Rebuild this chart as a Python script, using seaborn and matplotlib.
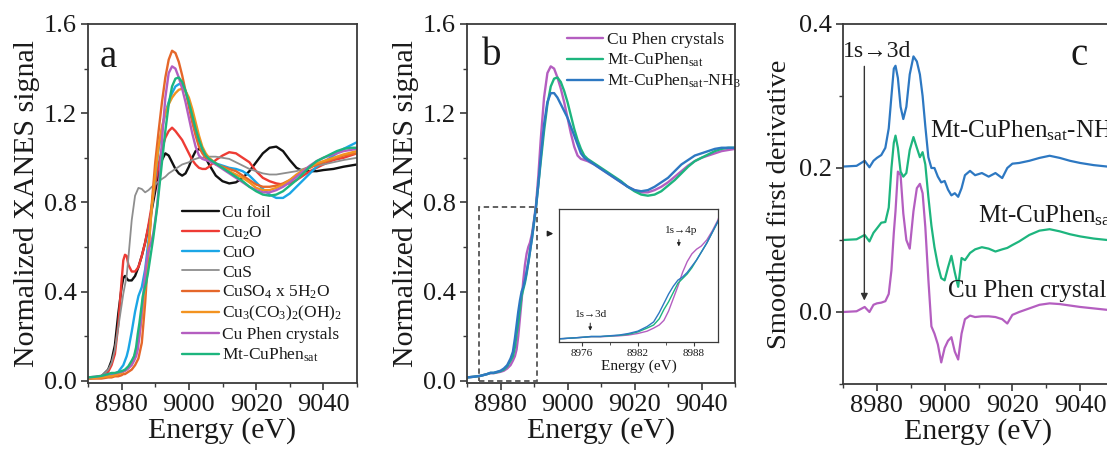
import matplotlib
matplotlib.use("Agg")
import matplotlib.pyplot as plt
from matplotlib.ticker import MultipleLocator
from matplotlib.patches import Rectangle
import seaborn as sns

# ---------------- data ----------------
# (a) reference compounds, Cu K-edge XANES
energy_ref = [8970, 8974, 8976, 8977, 8978, 8979, 8980, 8980.5, 8981, 8981.5,
              8982, 8983, 8984, 8985, 8986, 8987, 8988, 8989, 8990, 8991,
              8992, 8993, 8994, 8995, 8996, 8997, 8998, 8999, 9000, 9001,
              9002, 9003, 9004, 9005, 9006, 9008, 9010, 9012, 9014, 9016,
              9018, 9020, 9022, 9024, 9026, 9028, 9030, 9032, 9034, 9036,
              9038, 9040, 9043, 9046, 9050]
cu_foil = [0.01, 0.02, 0.05, 0.09, 0.16, 0.3, 0.42, 0.46, 0.47, 0.46,
           0.45, 0.45, 0.47, 0.51, 0.56, 0.62, 0.69, 0.77, 0.85, 0.93,
           0.99, 1.02, 1.01, 0.98, 0.95, 0.93, 0.92, 0.93, 0.96, 1.0,
           1.03, 1.04, 1.03, 1.0, 0.97, 0.92, 0.895, 0.885, 0.89, 0.91,
           0.94, 0.98, 1.02, 1.045, 1.05, 1.03, 0.99, 0.955, 0.94, 0.94,
           0.94, 0.945, 0.95, 0.96, 0.97]
cu2o = [0.01, 0.02, 0.04, 0.07, 0.12, 0.25, 0.45, 0.54, 0.565, 0.56,
        0.52, 0.49, 0.49, 0.51, 0.56, 0.62, 0.7, 0.79, 0.88, 0.97,
        1.04, 1.09, 1.12, 1.135, 1.12, 1.1, 1.08, 1.05, 1.02, 0.99,
        0.97, 0.955, 0.95, 0.95, 0.96, 0.99, 1.01, 1.025, 1.02, 1.0,
        0.98, 0.94, 0.91, 0.895, 0.885, 0.88, 0.885, 0.9, 0.92, 0.94,
        0.955, 0.97, 0.99, 1.0, 1.02]
cuo = [0.01, 0.015, 0.02, 0.025, 0.03, 0.04, 0.06, 0.07, 0.09, 0.11,
       0.14, 0.22, 0.31, 0.38, 0.42, 0.5, 0.63, 0.78, 0.92, 1.04,
       1.13, 1.2, 1.25, 1.29, 1.32, 1.33, 1.33, 1.3, 1.25, 1.19,
       1.13, 1.08, 1.04, 1.01, 0.99, 0.975, 0.965, 0.955, 0.95, 0.94,
       0.92, 0.89, 0.86, 0.835, 0.82, 0.82, 0.84, 0.87, 0.9, 0.93,
       0.96, 0.98, 1.01, 1.04, 1.07]
cus = [0.01, 0.02, 0.05, 0.08, 0.14, 0.24, 0.34, 0.39, 0.43, 0.47,
       0.55, 0.72, 0.83, 0.865, 0.86, 0.845, 0.855, 0.87, 0.88, 0.895,
       0.905, 0.915, 0.93, 0.94, 0.95, 0.96, 0.97, 0.975, 0.98, 0.99,
       0.995, 1.0, 1.0, 1.005, 1.005, 1.005, 1.0, 0.995, 0.98, 0.965,
       0.95, 0.94, 0.93, 0.925, 0.925, 0.93, 0.935, 0.94, 0.95, 0.96,
       0.965, 0.97, 0.98, 0.99, 1.0]
cuso4 = [0.01, 0.01, 0.015, 0.015, 0.02, 0.02, 0.025, 0.03, 0.03, 0.035,
         0.04, 0.05, 0.07, 0.1, 0.17, 0.35, 0.58, 0.8, 0.98, 1.12,
         1.25, 1.36, 1.44, 1.48, 1.47, 1.43, 1.37, 1.3, 1.23, 1.16,
         1.1, 1.05, 1.02, 1.0, 0.99, 0.97, 0.96, 0.95, 0.94, 0.92,
         0.9, 0.88, 0.87, 0.87, 0.875, 0.885, 0.9, 0.92, 0.94, 0.955,
         0.97, 0.98, 0.995, 1.01, 1.02]
azurite = [0.01, 0.015, 0.02, 0.02, 0.025, 0.03, 0.035, 0.04, 0.045, 0.05,
           0.06, 0.08, 0.12, 0.18, 0.28, 0.42, 0.6, 0.78, 0.93, 1.05,
           1.14, 1.2, 1.24, 1.27, 1.29, 1.305, 1.31, 1.3, 1.27, 1.22,
           1.16, 1.1, 1.05, 1.02, 1.0, 0.975, 0.955, 0.94, 0.925, 0.91,
           0.89, 0.865, 0.855, 0.855, 0.865, 0.88, 0.9, 0.925, 0.945, 0.96,
           0.975, 0.985, 1.0, 1.015, 1.03]

# (b) Cu-phenanthroline samples
energy_smp = [8970, 8972, 8974, 8976, 8977, 8978, 8980, 8981, 8982, 8983,
              8983.7, 8984.3, 8984.8, 8985.3, 8985.8, 8986.3, 8986.8, 8987.3, 8987.8, 8988.3,
              8988.8, 8989.4, 8990, 8990.6, 8991.3, 8992, 8993, 8994, 8995, 8996,
              8997, 8998, 8999, 9000, 9001, 9002, 9003, 9004, 9005, 9006,
              9008, 9010, 9012, 9014, 9016, 9018, 9020, 9022, 9024, 9026,
              9028, 9030, 9032, 9034, 9036, 9038, 9040, 9042, 9044, 9046,
              9048, 9050]
cu_phen = [0.015, 0.018, 0.022, 0.03, 0.034, 0.034, 0.04, 0.045, 0.055, 0.07,
           0.09, 0.11, 0.14, 0.2, 0.28, 0.36, 0.45, 0.52, 0.57, 0.6,
           0.62, 0.66, 0.72, 0.79, 0.92, 1.08, 1.27, 1.38, 1.41, 1.4,
           1.36, 1.31, 1.25, 1.18, 1.11, 1.05, 1.01, 0.995, 0.99, 0.985,
           0.97, 0.95, 0.93, 0.91, 0.89, 0.87, 0.855, 0.845, 0.845, 0.855,
           0.87, 0.89, 0.915, 0.94, 0.965, 0.985, 1.0, 1.01, 1.02, 1.03,
           1.035, 1.04]
mt_sat = [0.015, 0.018, 0.022, 0.03, 0.035, 0.035, 0.043, 0.05, 0.065, 0.09,
          0.11, 0.15, 0.21, 0.26, 0.32, 0.38, 0.41, 0.44, 0.48, 0.53,
          0.58, 0.64, 0.71, 0.78, 0.88, 0.98, 1.12, 1.24, 1.32, 1.355,
          1.36, 1.34, 1.3, 1.25, 1.19, 1.13, 1.08, 1.04, 1.01, 0.995,
          0.975, 0.955, 0.935, 0.915, 0.895, 0.87, 0.85, 0.835, 0.83, 0.835,
          0.85, 0.875, 0.9, 0.93, 0.96, 0.985, 1.0, 1.015, 1.03, 1.04,
          1.045, 1.045]
mt_sat_nh3 = [0.015, 0.018, 0.022, 0.03, 0.036, 0.036, 0.045, 0.055, 0.07, 0.1,
              0.13, 0.19, 0.25, 0.31, 0.36, 0.4, 0.42, 0.45, 0.49, 0.53,
              0.58, 0.64, 0.71, 0.78, 0.88, 1.0, 1.15, 1.25, 1.29, 1.29,
              1.27, 1.24, 1.21, 1.18, 1.14, 1.1, 1.06, 1.02, 1.0, 0.99,
              0.97, 0.95, 0.93, 0.91, 0.89, 0.87, 0.855, 0.85, 0.855, 0.87,
              0.89, 0.91, 0.94, 0.97, 0.99, 1.01, 1.02, 1.03, 1.04, 1.045,
              1.045, 1.045]

# (c) smoothed first derivatives (each stacked on its own baseline)
energy_der = [8970, 8974, 8976.4, 8977.8, 8979, 8980, 8981.3, 8982.5, 8983.5, 8984.3,
              8985, 8985.5, 8986.2, 8987, 8987.8, 8988.7, 8989.7, 8990.8, 8991.8, 8992.7,
              8993.5, 8994.3, 8995.2, 8996.1, 8997, 8998, 8999, 9000, 9001, 9002,
              9003, 9004, 9005, 9006, 9007.5, 9009, 9011, 9013, 9015, 9017,
              9018.5, 9020, 9022, 9025, 9028, 9031, 9034, 9037, 9040, 9044,
              9048, 9050]
der_cu_phen = [0.0, 0.001, 0.007, 0.0, 0.01, 0.012, 0.013, 0.015, 0.025, 0.058,
               0.11, 0.14, 0.195, 0.19, 0.137, 0.1, 0.088, 0.14, 0.172, 0.178,
               0.165, 0.118, 0.045, -0.02, -0.03, -0.045, -0.07, -0.05, -0.04, -0.035,
               -0.055, -0.066, -0.03, -0.01, -0.005, -0.007, -0.006, -0.006, -0.007, -0.01,
               -0.016, -0.004, 0.0, 0.005, 0.01, 0.012, 0.011, 0.009, 0.007, 0.005,
               0.003, 0.002]
der_mt_sat = [0.0, 0.001, 0.007, -0.002, 0.01, 0.016, 0.024, 0.025, 0.045, 0.1,
              0.135, 0.145, 0.128, 0.095, 0.088, 0.093, 0.125, 0.143, 0.128, 0.115,
              0.122, 0.105, 0.06, 0.02, -0.01, -0.035, -0.053, -0.056, -0.038, -0.022,
              -0.045, -0.065, -0.025, -0.028, -0.018, -0.013, -0.01, -0.012, -0.016, -0.013,
              -0.011, -0.007, -0.002, 0.007, 0.013, 0.015, 0.012, 0.008, 0.005, 0.002,
              0.0, -0.001]
der_mt_nh3 = [0.002, 0.003, 0.01, 0.001, 0.01, 0.014, 0.018, 0.028, 0.055, 0.1,
              0.138, 0.142, 0.125, 0.085, 0.068, 0.085, 0.13, 0.155, 0.148, 0.13,
              0.1, 0.058, 0.015, 0.0, 0.0, -0.012, -0.02, -0.018, -0.03, -0.038,
              -0.035, -0.04, -0.028, -0.01, -0.004, -0.01, -0.007, -0.012, -0.007, -0.014,
              0.0, 0.006, 0.007, 0.01, 0.014, 0.017, 0.014, 0.01, 0.007, 0.004,
              0.002, 0.001]
der_offsets = [0.0, 0.1, 0.2]

ref_labels = ["Cu foil", "Cu$_2$O", "CuO", "CuS", "CuSO$_4$ x 5H$_2$O",
              "Cu$_3$(CO$_3$)$_2$(OH)$_2$", "Cu Phen crystals",
              "Mt-CuPhen$_{\\mathrm{sat}}$"]
smp_labels = ["Cu Phen crystals", "Mt-CuPhen$_{\\mathrm{sat}}$",
              "Mt-CuPhen$_{\\mathrm{sat}}$-NH$_3$"]

# ---------------- style ----------------
C_FOIL, C_CU2O, C_CUO, C_CUS = "#111111", "#EE3B34", "#1BA6E6", "#8E8E8E"
C_SO4, C_AZU = "#E5672A", "#F39320"
C_PHEN, C_SAT, C_NH3 = "#B45EC0", "#1DB57E", "#2D78C2"

sns.set_style("ticks")
plt.rcParams.update({
    "font.family": ["Liberation Serif", "DejaVu Serif"],
    "mathtext.fontset": "custom",
    "mathtext.rm": "Liberation Serif",
    "mathtext.it": "Liberation Serif:italic",
    "mathtext.bf": "Liberation Serif:bold",
    "axes.edgecolor": "#3a3a3a",
    "axes.linewidth": 1.3,
    "text.color": "#1a1a1a",
    "axes.labelcolor": "#1a1a1a",
    "xtick.color": "#3a3a3a",
    "ytick.color": "#3a3a3a",
    "xtick.labelcolor": "#1a1a1a",
    "ytick.labelcolor": "#1a1a1a",
})

LW = 1.7
TICK_FS = 19
LABEL_FS = 21.5
fig = plt.figure(figsize=(11.07, 4.5), dpi=100)
W, H = 1107.0, 450.0


def axes_px(left, right, top, bottom):
    return fig.add_axes([left / W, 1 - bottom / H, (right - left) / W, (bottom - top) / H])


def line(ax, x, y, color, lw=LW, label=None):
    sns.lineplot(x=x, y=y, ax=ax, color=color, lw=lw, label=label,
                 legend=False, estimator=None, sort=False)


def style_axes(ax, ymajor, yminor):
    ax.set_xlim(8970, 9050)
    ax.xaxis.set_major_locator(MultipleLocator(20))
    ax.xaxis.set_minor_locator(MultipleLocator(10))
    ax.yaxis.set_major_locator(MultipleLocator(ymajor))
    ax.yaxis.set_minor_locator(MultipleLocator(yminor))
    ax.tick_params(which="major", direction="out", length=5, width=1.2,
                   labelsize=TICK_FS, pad=3)
    ax.tick_params(which="minor", direction="out", length=3, width=1.0)
    for s in ax.spines.values():
        s.set_visible(True)
    ax.set_xlabel("Energy (eV)", fontsize=LABEL_FS, labelpad=1)


# ---------------- panel a ----------------
ax_a = axes_px(88, 357, 24, 383)
ref_series = [cu_foil, cu2o, cuo, cus, cuso4, azurite]
ref_colors = [C_FOIL, C_CU2O, C_CUO, C_CUS, C_SO4, C_AZU]
for y, c, lab in zip(ref_series, ref_colors, ref_labels[:6]):
    line(ax_a, energy_ref, y, c, lw=LW if c != C_CUS else 1.3, label=lab)
line(ax_a, energy_smp, cu_phen, C_PHEN, label=ref_labels[6])
line(ax_a, energy_smp, mt_sat, C_SAT, label=ref_labels[7])
style_axes(ax_a, 0.4, 0.2)
ax_a.set_ylim(-0.01, 1.6)
ax_a.set_ylabel("Normalized XANES signal", fontsize=LABEL_FS, labelpad=3)
ax_a.legend(loc="upper left", bbox_to_anchor=(0.35, 0.495), frameon=False,
            fontsize=12.5, handlelength=2.1, handletextpad=0.2,
            labelspacing=0.18, borderpad=0, borderaxespad=0)
ax_a.text(0.045, 0.88, "a", transform=ax_a.transAxes, fontsize=28)

# ---------------- panel b ----------------
ax_b = axes_px(467, 735, 24, 383)
smp_series = [cu_phen, mt_sat, mt_sat_nh3]
smp_colors = [C_PHEN, C_SAT, C_NH3]
for y, c, lab in zip(smp_series, smp_colors, smp_labels):
    line(ax_b, energy_smp, y, c, label=lab)
style_axes(ax_b, 0.4, 0.2)
ax_b.set_ylim(-0.01, 1.6)
ax_b.set_ylabel("Normalized XANES signal", fontsize=LABEL_FS, labelpad=3)
ax_b.legend(loc="upper left", bbox_to_anchor=(0.373, 0.977), frameon=False,
            fontsize=12.5, handlelength=2.1, handletextpad=0.2,
            labelspacing=0.15, borderpad=0, borderaxespad=0)
ax_b.text(0.056, 0.886, "b", transform=ax_b.transAxes, fontsize=28)

# zoom window of the pre-edge region
zoom_x = (8973.5, 8990.8)
zoom_y = (0.0, 0.78)
ax_b.add_patch(Rectangle((zoom_x[0], zoom_y[0]), zoom_x[1] - zoom_x[0],
                         zoom_y[1] - zoom_y[0], fill=False, ec="#555555",
                         lw=1.3, ls=(0, (3, 2)), zorder=5))
ax_b.annotate("", xy=(8996.6, 0.66), xytext=(8993.4, 0.66),
              arrowprops=dict(arrowstyle="-|>", color="#222222", lw=1.0,
                              mutation_scale=8))

ax_in = axes_px(559, 718, 209, 342)
for y, c in zip(smp_series, smp_colors):
    line(ax_in, energy_smp, y, c, lw=1.0)
ax_in.set_xlim(8973.55, 8990.6)
ax_in.set_ylim(0.0, 0.86)
ax_in.xaxis.set_minor_locator(MultipleLocator(3))
ax_in.set_xticks([8976, 8982, 8988])
ax_in.set_yticks([])
ax_in.tick_params(which="major", direction="out", length=3, width=0.8,
                  labelsize=8, pad=2)
ax_in.tick_params(which="minor", direction="out", length=2, width=0.6)
for s in ax_in.spines.values():
    s.set_visible(True)
    s.set_linewidth(0.9)
ax_in.set_xlabel("Energy (eV)", fontsize=11, labelpad=1)
ax_in.text(8977.0, 0.15, "1s\u21923d", fontsize=8, ha="center", va="bottom")
ax_in.annotate("", xy=(8976.9, 0.055), xytext=(8976.9, 0.14),
               arrowprops=dict(arrowstyle="-|>", color="#222222", lw=0.7,
                               mutation_scale=5))
ax_in.text(8986.6, 0.69, "1s\u21924p", fontsize=8, ha="center", va="bottom")
ax_in.annotate("", xy=(8986.4, 0.6), xytext=(8986.4, 0.68),
               arrowprops=dict(arrowstyle="-|>", color="#222222", lw=0.7,
                               mutation_scale=5))

# ---------------- panel c ----------------
ax_c = axes_px(843, 1114, 24, 384)
der_series = [der_cu_phen, der_mt_sat, der_mt_nh3]
for d, off, c in zip(der_series, der_offsets, smp_colors):
    line(ax_c, energy_der, [v + off for v in d], c, lw=1.6)
style_axes(ax_c, 0.2, 0.1)
ax_c.set_ylim(-0.1, 0.4)
ax_c.set_ylabel("Smoothed first derivative", fontsize=20.5, labelpad=5)
ax_c.text(0.838, 0.886, "c", transform=ax_c.transAxes, fontsize=28)
ax_c.text(8970.1, 0.354, "1s\u21923d", fontsize=17, ha="left", va="baseline")
ax_c.annotate("", xy=(8976.3, 0.012), xytext=(8976.3, 0.345),
              arrowprops=dict(arrowstyle="-|>", color="#333333", lw=1.0,
                              mutation_scale=10))
ax_c.text(8995.7, 0.243, smp_labels[2], fontsize=18, ha="left", va="baseline")
ax_c.text(9009.9, 0.125, smp_labels[1], fontsize=18, ha="left", va="baseline")
ax_c.text(9001.1, 0.021, smp_labels[0], fontsize=18, ha="left", va="baseline")

fig.savefig("out.png", dpi=100)
